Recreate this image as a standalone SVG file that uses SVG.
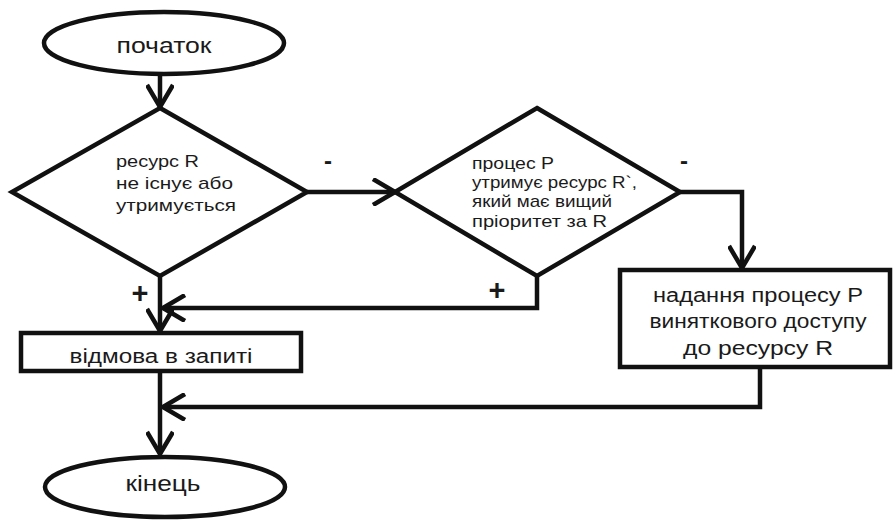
<svg xmlns="http://www.w3.org/2000/svg" width="893" height="522" viewBox="0 0 893 522">
  <defs>
    <marker id="vhead" viewBox="0 0 26 28" refX="24" refY="14" markerWidth="26" markerHeight="28" markerUnits="userSpaceOnUse" orient="auto">
      <path d="M2,1 L24,14 L2,27" fill="none" stroke="#111" stroke-width="4.5" stroke-linejoin="miter"/>
    </marker>
  </defs>
  <style>
    .shape { fill: #fff; stroke: #111; stroke-width: 4.5; stroke-linejoin: miter; }
    .line { fill: none; stroke: #111; stroke-width: 4.5; }
    text { font-family: "Liberation Sans", Arial, sans-serif; fill: #1a1a1a; }
    .term { font-size: 22px; text-anchor: middle; }
    .cond { font-size: 17px; }
    .proc { font-size: 20px; text-anchor: middle; }
    .minus { font-size: 24px; text-anchor: middle; font-weight: bold; }
    .plus { font-size: 29px; text-anchor: middle; font-weight: bold; }
  </style>
  <rect width="893" height="522" fill="#fff"/>

  <!-- connectors -->
  <g id="connectors">
    <path class="line" d="M160,75 L160,107" marker-end="url(#vhead)"/>
    <path class="line" d="M307,192 L395,192" marker-end="url(#vhead)"/>
    <path class="line" d="M680,192 L742,192 L742,268" marker-end="url(#vhead)"/>
    <path class="line" d="M160,276 L160,331" marker-end="url(#vhead)"/>
    <path class="line" d="M537,276 L537,308 L163,308" marker-end="url(#vhead)"/>
    <path class="line" d="M160,371 L160,454" marker-end="url(#vhead)"/>
    <path class="line" d="M760,367 L760,407 L163,407" marker-end="url(#vhead)"/>
    <text class="minus" x="328" y="169">-</text>
    <text class="minus" x="684" y="169">-</text>
    <text class="plus" x="140" y="303">+</text>
    <text class="plus" x="497" y="300">+</text>
  </g>

  <!-- start terminator -->
  <g id="start">
    <ellipse class="shape" cx="164" cy="43" rx="120" ry="31"/>
    <text class="term" x="164" y="53" textLength="95" lengthAdjust="spacingAndGlyphs">початок</text>
  </g>

  <!-- decision: resource R state -->
  <g id="check-resource">
    <polygon class="shape" points="160,108 307,192 160,276 12,192"/>
    <text class="cond" x="116" y="167" textLength="83" lengthAdjust="spacingAndGlyphs">ресурс R</text>
    <text class="cond" x="116" y="189" textLength="117" lengthAdjust="spacingAndGlyphs">не існує або</text>
    <text class="cond" x="116" y="211" textLength="120" lengthAdjust="spacingAndGlyphs">утримується</text>
  </g>

  <!-- decision: priority of held resource -->
  <g id="check-priority">
    <polygon class="shape" points="537,108 680,192 537,276 395,192"/>
    <text class="cond" x="472" y="169" textLength="82" lengthAdjust="spacingAndGlyphs">процес P</text>
    <text class="cond" x="472" y="188" textLength="165" lengthAdjust="spacingAndGlyphs">утримує ресурс R`,</text>
    <text class="cond" x="472" y="207" textLength="140" lengthAdjust="spacingAndGlyphs">який має вищий</text>
    <text class="cond" x="472" y="227" textLength="135" lengthAdjust="spacingAndGlyphs">пріоритет за R</text>
  </g>

  <!-- process: grant exclusive access -->
  <g id="grant-access">
    <rect class="shape" x="620" y="270" width="270" height="97"/>
    <text class="proc" x="758" y="302" textLength="210" lengthAdjust="spacingAndGlyphs">надання процесу P</text>
    <text class="proc" x="758" y="328" textLength="217" lengthAdjust="spacingAndGlyphs">виняткового доступу</text>
    <text class="proc" x="758" y="355" textLength="150" lengthAdjust="spacingAndGlyphs">до ресурсу R</text>
  </g>

  <!-- process: request denied -->
  <g id="deny-request">
    <rect class="shape" x="21" y="333" width="280" height="38"/>
    <text class="proc" x="161" y="363" font-size="24" textLength="183" lengthAdjust="spacingAndGlyphs">відмова в запиті</text>
  </g>

  <!-- end terminator -->
  <g id="end">
    <ellipse class="shape" cx="165" cy="487" rx="120" ry="30"/>
    <text class="term" x="163" y="491" textLength="75" lengthAdjust="spacingAndGlyphs">кінець</text>
  </g>
</svg>
